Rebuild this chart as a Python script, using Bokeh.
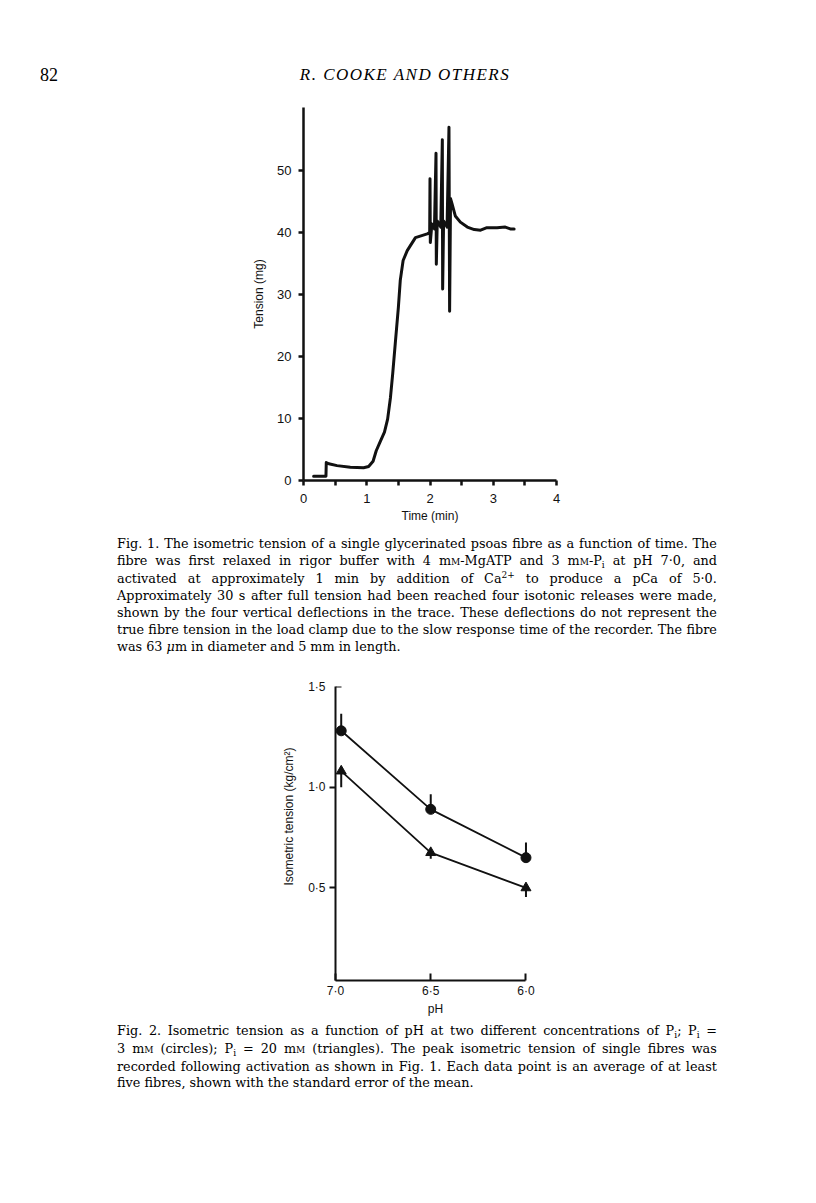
import re
import numpy as np
from bokeh.plotting import figure
from bokeh.models import (Range1d, FixedTicker, LinearAxis, Div, Title,
                          CustomJSTickFormatter)
from bokeh.layouts import column
from bokeh.embed import file_html
from bokeh.resources import INLINE

# ---------------- Fig. 1 : tension trace (time in min, tension in mg) ----------------
time_min = [0.16, 0.355, 0.36, 0.40, 0.53, 0.74, 0.95, 1.03, 1.10, 1.15, 1.22, 1.28,
            1.33, 1.375, 1.41, 1.45, 1.50, 1.53, 1.575, 1.64, 1.77, 1.956, 1.995,
            2.0, 2.005, 2.03, 2.07,
            2.095, 2.10, 2.115, 2.17,
            2.195, 2.20, 2.215, 2.27,
            2.30, 2.31, 2.325, 2.35, 2.40, 2.48, 2.59, 2.70, 2.80, 2.90, 3.06, 3.19,
            3.27, 3.33]
tension_mg = [0.7, 0.7, 2.9, 2.7, 2.4, 2.15, 2.05, 2.26, 3.1, 4.8, 6.45, 7.8,
              9.9, 13.4, 17.2, 22.0, 27.95, 32.3, 35.5, 37.1, 39.2, 39.8, 40.0,
              48.7, 38.4, 41.4, 40.6,
              52.8, 34.9, 41.9, 40.9,
              55.0, 30.9, 41.9, 40.9,
              57.0, 27.3, 45.5, 44.6, 42.7, 41.7, 40.9, 40.5, 40.4, 40.8, 40.8, 40.9,
              40.6, 40.6]
fig1_xticks = [0, 1, 2, 3, 4]
fig1_xminor = [0.5, 1.5, 2.5, 3.5]
fig1_yticks = [0, 10, 20, 30, 40, 50]

# ---------------- Fig. 2 : isometric tension vs pH ----------------
ph = [7.0, 6.5, 6.0]
tension_pi3 = [1.28, 0.89, 0.65]      # Pi = 3 mM (circles)
sem_pi3 = [0.085, 0.075, 0.075]
tension_pi20 = [1.08, 0.675, 0.50]    # Pi = 20 mM (triangles)
sem_pi20 = [0.08, 0.03, 0.045]
fig2_xticks = [7.0, 6.5, 6.0]
fig2_ytick_labels = [0.5, 1.0, 1.5]
fig2_yticks_out = [0.5, 1.0]
fig2_yticks_in = [1.5]

SANS = "Liberation Sans"
BLACK = "#111111"


def base_fig(width, height, xr, yr, left, right, top, bottom):
    p = figure(width=width, height=height, x_range=xr, y_range=yr,
               output_backend="svg", toolbar_location=None,
               min_border_left=left, min_border_right=right,
               min_border_top=top, min_border_bottom=bottom,
               x_axis_type=None, y_axis_type=None)
    p.frame_align = False
    p.outline_line_color = None
    p.grid.visible = False
    p.background_fill_color = "white"
    p.border_fill_color = "white"
    return p


def style_axis(ax, lw, size):
    ax.axis_line_width = lw
    ax.axis_line_color = BLACK
    ax.major_tick_line_width = lw
    ax.major_tick_line_color = BLACK
    ax.minor_tick_line_width = lw
    ax.minor_tick_line_color = BLACK
    ax.major_label_text_font = SANS
    ax.major_label_text_font_size = size
    ax.major_label_text_color = BLACK
    ax.axis_label_text_font = SANS
    ax.axis_label_text_font_size = "12px"
    ax.axis_label_text_font_style = "normal"
    ax.axis_label_text_color = BLACK


# ---------- figure 1 ----------
p1 = base_fig(800, 440, Range1d(0, 4), Range1d(0, 60.2), 303, 244, 19, 48)
xa1 = LinearAxis(ticker=FixedTicker(ticks=fig1_xticks, minor_ticks=fig1_xminor),
                 axis_label="Time (min)")
style_axis(xa1, 2.5, "13px")
xa1.major_tick_in = 0
xa1.major_tick_out = 5
xa1.minor_tick_in = 0
xa1.minor_tick_out = 5
xa1.major_label_standoff = 8
xa1.axis_label_standoff = 3
p1.add_layout(xa1, "below")

ya1 = LinearAxis(ticker=FixedTicker(ticks=fig1_yticks), axis_label="Tension (mg)")
style_axis(ya1, 2.5, "13px")
ya1.major_tick_in = 0
ya1.major_tick_out = 5
ya1.minor_tick_line_color = None
ya1.major_label_standoff = 7
ya1.axis_label_standoff = 8
p1.add_layout(ya1, "left")

p1.line(time_min, tension_mg, line_width=3, line_color=BLACK, line_join="round",
        line_cap="round")

# ---------- figure 2 ----------
# range runs a little past pH 6.0 so the end markers are not clipped;
# the axis line itself is bounded to 7.0 .. 6.0
p2 = base_fig(800, 360, Range1d(7.0, 5.95), Range1d(0.04, 1.5), 335, 265, 26, 40)
fmt = CustomJSTickFormatter(code="return tick.toFixed(1).replace('.', '\u00b7');")
blank = CustomJSTickFormatter(code="return '';")

xa2 = LinearAxis(ticker=FixedTicker(ticks=fig2_xticks), axis_label="pH", formatter=fmt,
                 bounds=(6.0, 7.0))
style_axis(xa2, 2, "12px")
xa2.major_tick_in = 7
xa2.major_tick_out = 0
xa2.minor_tick_line_color = None
xa2.major_label_standoff = 3
xa2.axis_label_standoff = 1
p2.add_layout(xa2, "below")

# axis line + outward ticks (no labels)
ya2 = LinearAxis(ticker=FixedTicker(ticks=fig2_yticks_out), formatter=blank)
style_axis(ya2, 2, "12px")
ya2.major_tick_in = 0
ya2.major_tick_out = 6
ya2.minor_tick_line_color = None
ya2.major_label_standoff = 0
p2.add_layout(ya2, "left")

# tick labels only
ya2l = LinearAxis(ticker=FixedTicker(ticks=fig2_ytick_labels), formatter=fmt)
style_axis(ya2l, 2, "12px")
ya2l.axis_line_color = None
ya2l.major_tick_line_color = None
ya2l.minor_tick_line_color = None
ya2l.major_tick_in = 0
ya2l.major_tick_out = 0
ya2l.major_label_standoff = 4
p2.add_layout(ya2l, "left")

p2.add_layout(Title(text="Isometric tension (kg/cm\u00b2)", align="left", offset=95,
                    text_font=SANS, text_font_size="12px", text_font_style="normal",
                    text_color=BLACK, standoff=20), "left")

# top tick (1.5) points inwards in the original
ya2b = LinearAxis(ticker=FixedTicker(ticks=fig2_yticks_in), formatter=blank,
                  fixed_location=7.0)
style_axis(ya2b, 2, "12px")
ya2b.axis_line_color = None
ya2b.major_tick_in = 6
ya2b.major_tick_out = 0
ya2b.minor_tick_line_color = None
p2.add_layout(ya2b, "left")

# points at pH 7.0 are drawn just right of the axis in the original
x_marks = [min(v, 6.97) for v in ph]
up3 = [t + s for t, s in zip(tension_pi3, sem_pi3)]
dn20 = [t - s for t, s in zip(tension_pi20, sem_pi20)]

p2.line(x_marks, tension_pi3, line_width=1.8, line_color=BLACK)
p2.line(x_marks, tension_pi20, line_width=1.8, line_color=BLACK)
p2.segment(x_marks, tension_pi3, x_marks, up3, line_width=2, line_color=BLACK)
p2.segment(x_marks, tension_pi20, x_marks, dn20, line_width=2, line_color=BLACK)
p2.scatter(x_marks, tension_pi3, marker="circle", size=10, fill_color=BLACK,
           line_color=BLACK)
p2.scatter(x_marks, tension_pi20, marker="triangle", size=10, fill_color=BLACK,
           line_color=BLACK)

# ---------- text blocks ----------
HEAD = "font-family:Liberation Serif,serif;color:#000;"
BODY = "font-family:DejaVu Serif,serif;color:#000;"
MM = 'm<span style="font-variant:small-caps">m</span>'
SUB_I = '<span style="font-size:9px;position:relative;top:3px">i</span>'
SUP_2P = '<span style="font-size:9px;position:relative;top:-5px">2+</span>'

SPLIT = re.compile(r' (?![^<>]*>)')   # spaces outside of tags


def caption(lines, pad_top, height):
    rows = []
    for i, ln in enumerate(lines):
        if i == len(lines) - 1:
            rows.append(f'<div style="white-space:nowrap;">{ln}</div>')
        else:
            words = "".join(f"<span>{w}</span>" for w in SPLIT.split(ln))
            rows.append('<div style="display:flex;justify-content:space-between;'
                        f'white-space:nowrap;">{words}</div>')
    html = (f'<div style="{BODY}font-size:12.8px;line-height:16.8px;'
            f'margin-left:117px;padding-top:{pad_top}px;width:600px;">'
            + "".join(rows) + "</div>")
    return Div(text=html, width=800, height=height, margin=0)


header = Div(text=(
    f'<div style="position:relative;width:800px;height:88px;{HEAD}">'
    '<div style="position:absolute;left:40px;top:66px;font-size:18px;line-height:18px;">82</div>'
    '<div style="position:absolute;left:255px;width:300px;top:66px;font-size:17px;'
    'line-height:17px;font-style:italic;text-align:center;letter-spacing:1.5px;">'
    'R. COOKE AND OTHERS</div></div>'), width=800, height=88, margin=0)

cap1_lines = [
    "Fig. 1. The isometric tension of a single glycerinated psoas fibre as a function of time. The",
    f"fibre was first relaxed in rigor buffer with 4 {MM}-MgATP and 3 {MM}-P{SUB_I} at pH 7\u00b70, and",
    f"activated at approximately 1 min by addition of Ca{SUP_2P} to produce a pCa of 5\u00b70.",
    "Approximately 30 s after full tension had been reached four isotonic releases were made,",
    "shown by the four vertical deflections in the trace. These deflections do not represent the",
    "true fibre tension in the load clamp due to the slow response time of the recorder. The fibre",
    "was 63 <i>\u03bc</i>m in diameter and 5 mm in length.",
]
cap2_lines = [
    f"Fig. 2. Isometric tension as a function of pH at two different concentrations of P{SUB_I}; P{SUB_I} =",
    f"3 {MM} (circles); P{SUB_I} = 20 {MM} (triangles). The peak isometric tension of single fibres was",
    "recorded following activation as shown in Fig. 1. Each data point is an average of at least",
    "five fibres, shown with the standard error of the mean.",
]
cap1 = caption(cap1_lines, 8, 132)
cap2 = caption(cap2_lines, 3, 80)

layout = column(header, p1, cap1, p2, cap2, spacing=0)

with open("out.html", "w", encoding="utf-8") as f:
    f.write(file_html(layout, INLINE))
